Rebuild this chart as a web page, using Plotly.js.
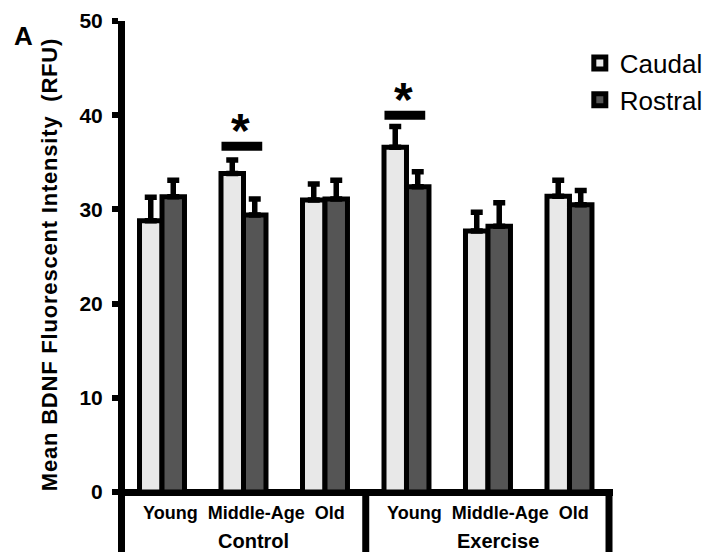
<!DOCTYPE html>
<html>
<head>
<meta charset="utf-8">
<script src="https://cdn.plot.ly/plotly-3.0.1.min.js"></script>
<style>
  html, body { margin: 0; padding: 0; background: #fff; }
  #chart { width: 726px; height: 552px; }
  /* widen the letter spacing of the long vertical axis title (first annotation) */
  .annotation[data-index="0"] text { letter-spacing: 0.8px !important; }
</style>
</head>
<body>
<div id="chart"></div>
<script>
// Treatment groups and age categories along the x axis
const groups = ['Control', 'Exercise'];
const ages = ['Young', 'Middle-Age', 'Old'];

// Mean BDNF fluorescence (RFU) per age/group cell, Control then Exercise
const caudal = [28.8, 33.8, 31.0, 36.6, 27.7, 31.4];
const caudalErr = [2.5, 1.45, 1.7, 2.2, 2.0, 1.7];
const rostral = [31.35, 29.4, 31.1, 32.4, 28.2, 30.5];
const rostralErr = [1.75, 1.7, 2.0, 1.6, 2.5, 1.5];

// Significant caudal vs rostral differences: category index and bar height
const sigIndex = [1, 3];
const sigLineY = [36.7, 40.0];

// Y axis ticks and title
const yTicks = [0, 10, 20, 30, 40, 50];
const yTitle = 'Mean BDNF Fluorescent Intensity\u00a0 (RFU)';

const FONT = 'Arial, "Liberation Sans", Helvetica, sans-serif';
const positions = [];
groups.forEach((g, gi) => ages.forEach((a, ai) => positions.push(gi * ages.length + ai)));

const yRange = [-6.37, 50];
const xRange = [-0.454, 5.534];

const traces = [
  {
    type: 'bar', name: 'Caudal', x: positions, y: caudal,
    marker: { color: '#e8e8e8', line: { color: '#000', width: 5 } },
    error_y: { type: 'data', symmetric: false, array: caudalErr,
               arrayminus: caudalErr.map(() => 0), color: '#000', thickness: 5.5, width: 6 }
  },
  {
    type: 'bar', name: 'Rostral', x: positions, y: rostral,
    marker: { color: '#555555', line: { color: '#000', width: 5 } },
    error_y: { type: 'data', symmetric: false, array: rostralErr,
               arrayminus: rostralErr.map(() => 0), color: '#000', thickness: 5.5, width: 6 }
  }
];

const shapes = [];
const annotations = [];

// Vertical axis title
annotations.push({
  xref: 'paper', yref: 'paper', x: 0, xshift: -75, y: 0.5405, showarrow: false,
  text: yTitle, textangle: -90,
  font: { family: FONT, size: 22, color: '#000', weight: 'bold' },
  xanchor: 'center', yanchor: 'middle'
});

// Boxes under the baseline separating the two treatment groups
const dividers = [ages.length - 0.5, groups.length * ages.length - 0.515];
dividers.forEach(xv => shapes.push({
  type: 'line', xref: 'x', yref: 'y', x0: xv, x1: xv, y0: yRange[0], y1: 0,
  line: { color: '#000', width: 7 }
}));

// Age labels row and group names beneath each group
groups.forEach((g, gi) => {
  const center = gi * ages.length + (ages.length - 1) / 2;
  annotations.push({
    xref: 'x', yref: 'y', x: center, y: -2.23, showarrow: false,
    text: ages.join('\u00a0 '), font: { family: FONT, size: 18, color: '#000', weight: 'bold' },
    xanchor: 'center', yanchor: 'middle'
  });
  annotations.push({
    xref: 'x', yref: 'y', x: center, y: -5.15, xshift: 10, showarrow: false,
    text: g, font: { family: FONT, size: 20, color: '#000', weight: 'bold' },
    xanchor: 'center', yanchor: 'middle'
  });
});

// Significance markers: a bar with an asterisk above it
sigIndex.forEach((idx, k) => {
  shapes.push({
    type: 'line', xref: 'x', yref: 'y', x0: idx - 0.27, x1: idx + 0.23,
    y0: sigLineY[k], y1: sigLineY[k], line: { color: '#000', width: 9 }
  });
  annotations.push({
    xref: 'x', yref: 'y', x: idx - 0.04, y: sigLineY[k], yshift: 16, showarrow: false,
    text: '*', font: { family: FONT, size: 48, color: '#000', weight: 'bold' },
    xanchor: 'center', yanchor: 'middle'
  });
});

// Panel letter
annotations.push({
  xref: 'paper', yref: 'paper', x: -0.207, y: 0.972, showarrow: false,
  text: 'A', font: { family: FONT, size: 26, color: '#000', weight: 'bold' },
  xanchor: 'center', yanchor: 'middle'
});

const layout = {
  width: 726, height: 552,
  margin: { l: 125, r: 113, t: 21, b: 0 },
  paper_bgcolor: '#fff', plot_bgcolor: '#fff',
  barmode: 'group', bargap: 0.448, bargroupgap: 0,
  showlegend: true,
  legend: {
    x: 0.932, xanchor: 'left', y: 0.965, yanchor: 'top',
    bgcolor: 'rgba(0,0,0,0)', borderwidth: 0,
    font: { family: FONT, size: 26, color: '#000' },
    itemwidth: 30, tracegroupgap: 0
  },
  xaxis: {
    range: xRange, showgrid: false, zeroline: false, showline: false,
    showticklabels: false, ticks: '', fixedrange: true
  },
  yaxis: {
    range: yRange, tickvals: yTicks, ticktext: yTicks.map(String),
    showgrid: false, showline: true, linecolor: '#000', linewidth: 7,
    ticks: 'outside', ticklen: 6, tickwidth: 6, tickcolor: '#000',
    ticklabelstandoff: 5,
    tickfont: { family: FONT, size: 21, color: '#000', weight: 'bold' },
    zeroline: true, zerolinecolor: '#000', zerolinewidth: 7
  },
  shapes: shapes,
  annotations: annotations
};

Plotly.newPlot('chart', traces, layout, { staticPlot: true, displayModeBar: false });
</script>
</body>
</html>
